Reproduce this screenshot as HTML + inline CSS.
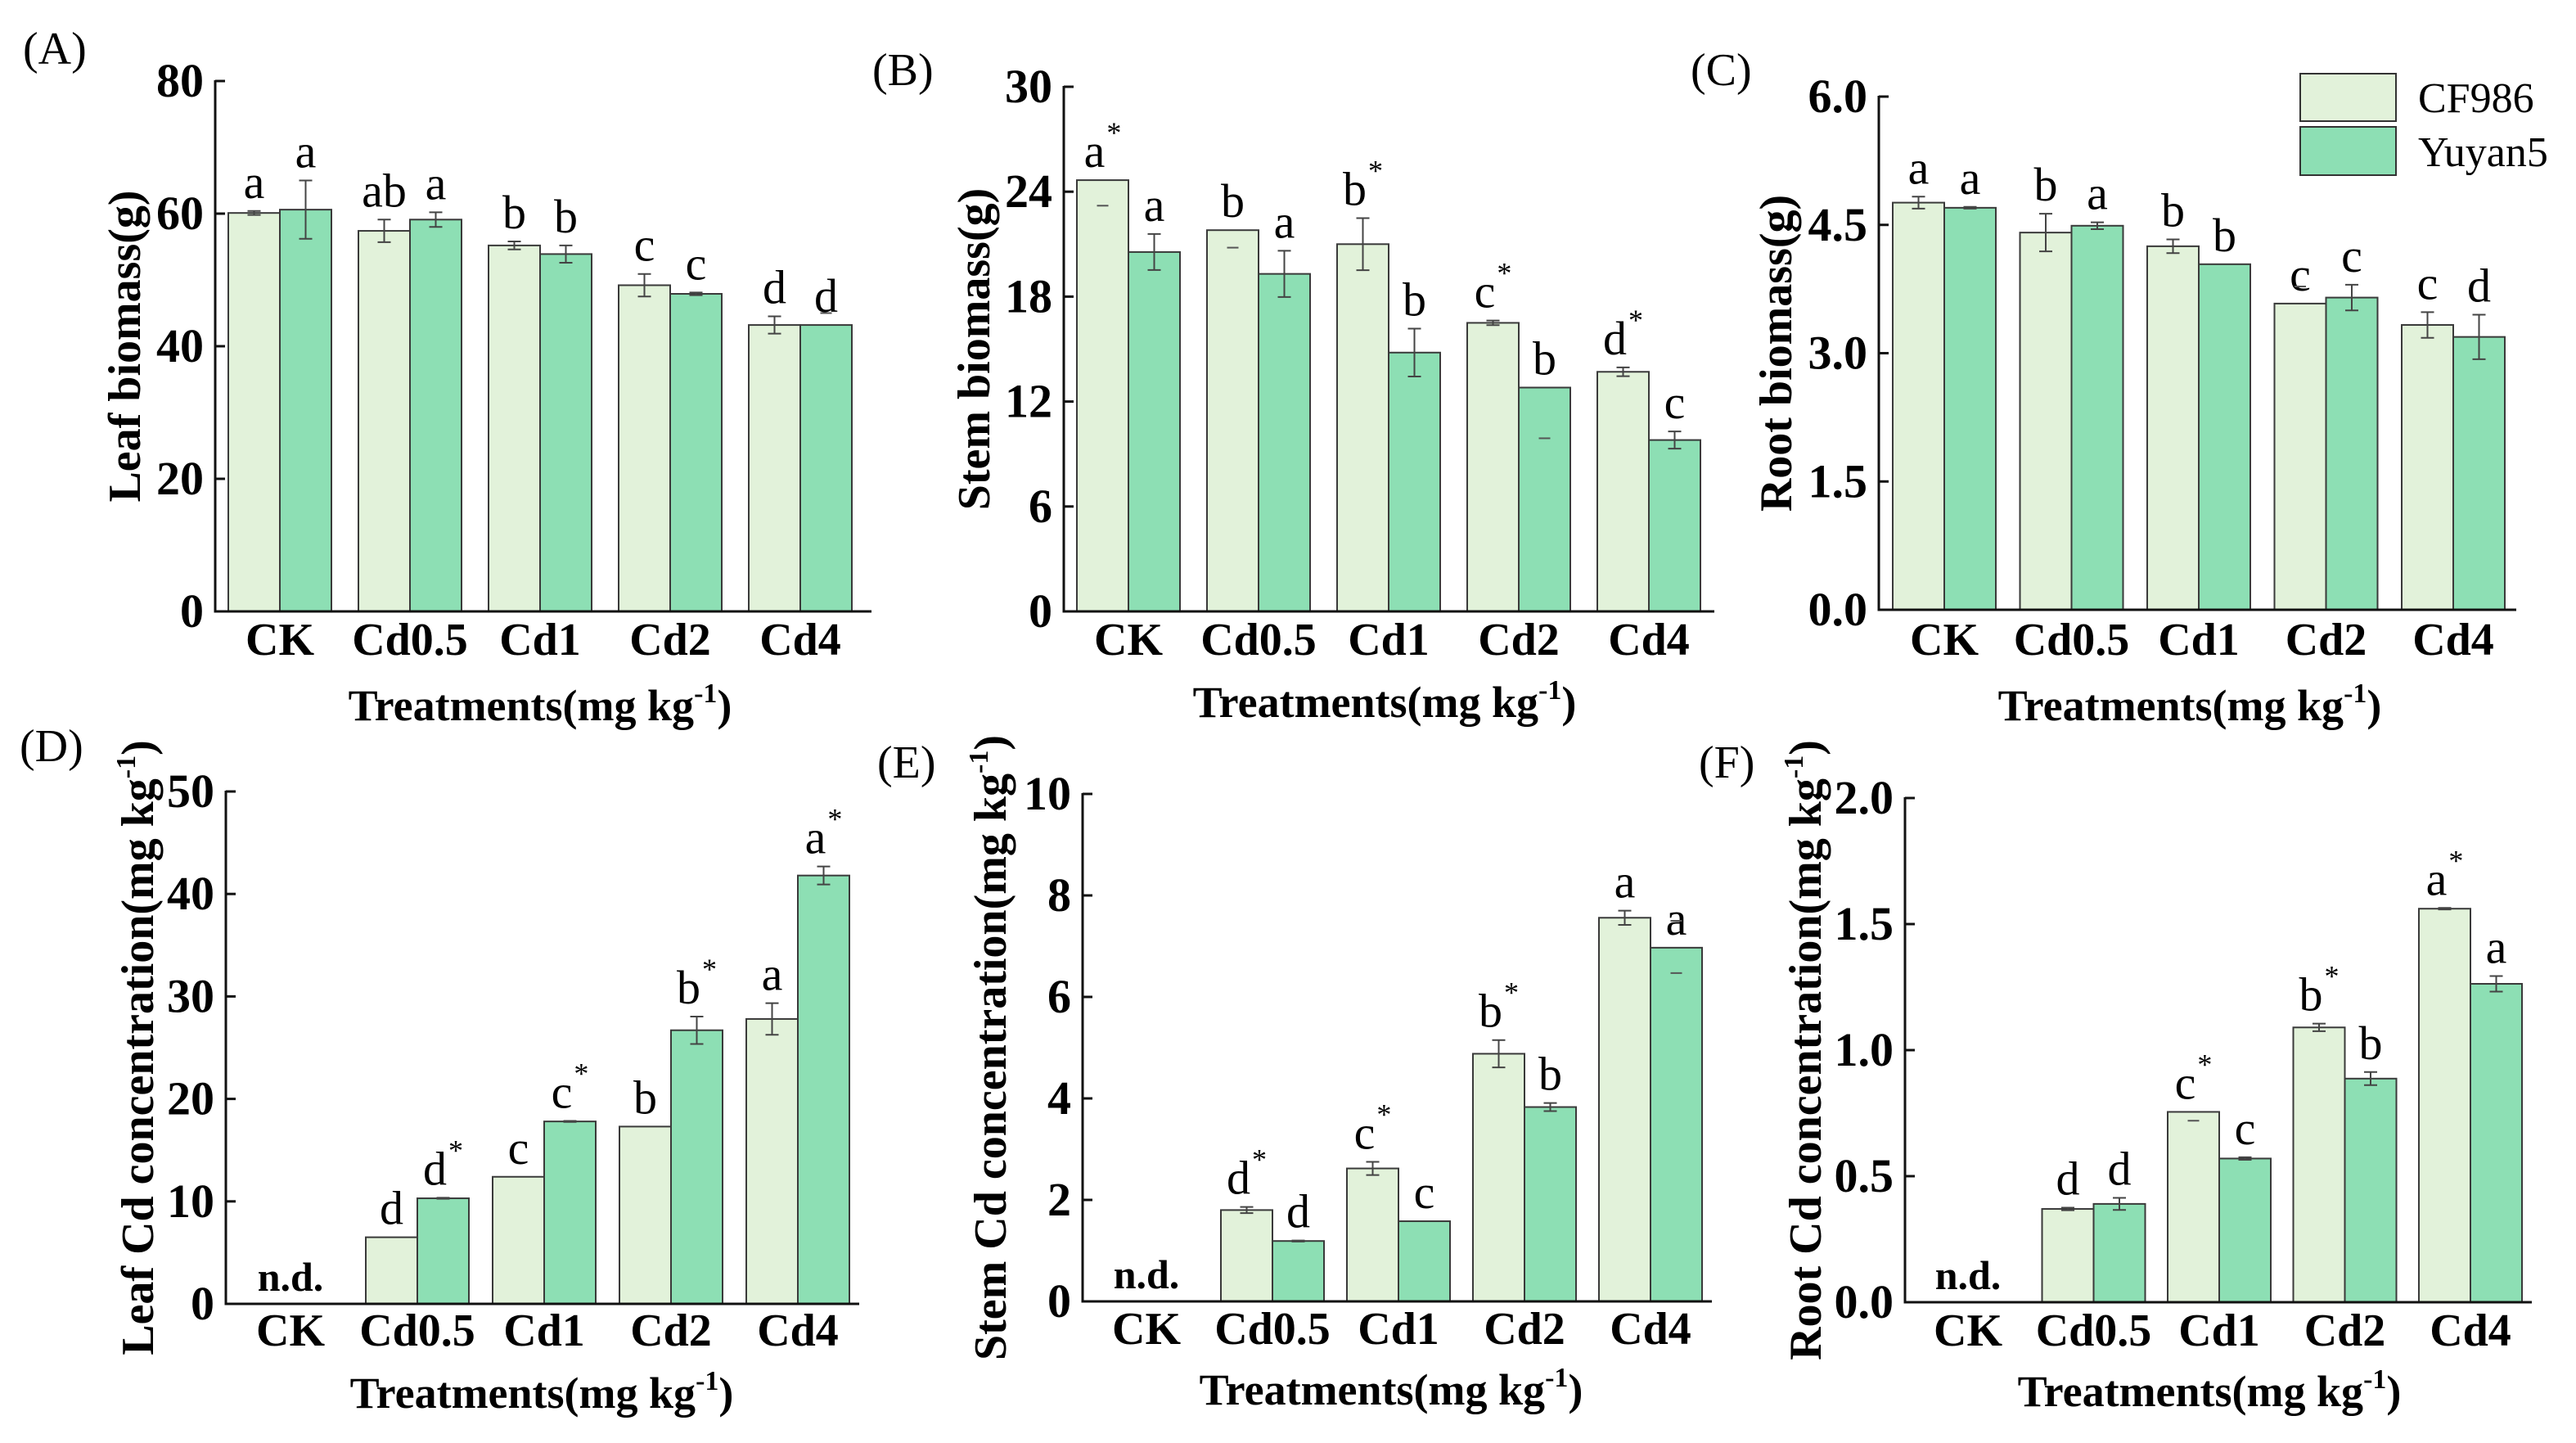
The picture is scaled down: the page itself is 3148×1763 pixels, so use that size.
<!DOCTYPE html>
<html><head><meta charset="utf-8">
<style>
html,body{margin:0;padding:0;background:#fff;}
svg, svg text{font-family:"Liberation Serif","DejaVu Serif",serif;}
</style></head>
<body>
<svg id="fig" width="3148" height="1758" viewBox="0 0 3148 1758" xmlns="http://www.w3.org/2000/svg" font-family="Liberation Serif, DejaVu Serif, serif">
  <rect width="3148" height="1758" fill="#fff"/>
  <g>
    <rect x="2811" y="90" width="117" height="58" fill="#e2f2da" stroke="#333" stroke-width="2"/>
    <text x="2955" y="137" font-size="52" font-family="Liberation Serif, serif">CF986</text>
    <rect x="2811" y="155" width="117" height="59" fill="#8ddfb4" stroke="#333" stroke-width="2"/>
    <text x="2955" y="203" font-size="52" font-family="Liberation Serif, serif">Yuyan5</text>
  </g>
</svg>
<script>
const categories = ["CK","Cd0.5","Cd1","Cd2","Cd4"];

// (A) Leaf biomass
const leafBioCF = [60.1,57.4,55.2,49.2,43.2];
const leafBioY  = [60.6,59.1,53.9,47.9,43.2];
const leafBioCFErr = [0.3,1.7,0.6,1.7,1.3];
const leafBioYErr  = [4.4,1.1,1.3,0.2,0];
const leafBioCFLab = ["a","ab","b","c","d"];
const leafBioYLab  = ["a","a","b","c","d"];
const leafBioCFStar = [0,0,0,0,0];
const leafBioYStar  = [0,0,0,0,0];
// (B) Stem biomass
const stemBioCF = [24.66,21.8,21.0,16.5,13.7];
const stemBioY  = [20.55,19.3,14.8,12.8,9.8];
const stemBioCFErr = [0,0,1.49,0.13,0.25];
const stemBioYErr  = [1.03,1.32,1.37,0,0.49];
const stemBioCFLab = ["a","b","b","c","d"];
const stemBioYLab  = ["a","a","b","b","c"];
const stemBioCFStar = [1,0,1,1,1];
const stemBioYStar  = [0,0,0,0,0];
// (C) Root biomass
const rootBioCF = [4.76,4.41,4.25,3.58,3.33];
const rootBioY  = [4.70,4.49,4.04,3.65,3.19];
const rootBioCFErr = [0.07,0.22,0.08,0,0.15];
const rootBioYErr  = [0.01,0.04,0,0.15,0.26];
const rootBioCFLab = ["a","b","b","c","c"];
const rootBioYLab  = ["a","a","b","c","d"];
const rootBioCFStar = [0,0,0,0,0];
const rootBioYStar  = [0,0,0,0,0];
// (D) Leaf Cd concentration
const leafCdCF = [0,6.5,12.4,17.3,27.8];
const leafCdY  = [0,10.3,17.8,26.7,41.8];
const leafCdCFErr = [0,0,0,0,1.54];
const leafCdYErr  = [0,0.05,0.05,1.34,0.88];
const leafCdCFLab = ["","d","c","b","a"];
const leafCdYLab  = ["","d","c","b","a"];
const leafCdCFStar = [0,0,0,0,0];
const leafCdYStar  = [0,1,1,1,1];
// (E) Stem Cd concentration
const stemCdCF = [0,1.80,2.62,4.88,7.56];
const stemCdY  = [0,1.19,1.58,3.83,6.97];
const stemCdCFErr = [0,0.06,0.13,0.27,0.14];
const stemCdYErr  = [0,0.01,0,0.08,0];
const stemCdCFLab = ["","d","c","b","a"];
const stemCdYLab  = ["","d","c","b","a"];
const stemCdCFStar = [0,1,1,1,0];
const stemCdYStar  = [0,0,0,0,0];
// (F) Root Cd concentration
const rootCdCF = [0,0.37,0.755,1.09,1.561];
const rootCdY  = [0,0.39,0.57,0.887,1.263];
const rootCdCFErr = [0,0.005,0,0.015,0.003];
const rootCdYErr  = [0,0.024,0.005,0.026,0.031];
const rootCdCFLab = ["","d","c","b","a"];
const rootCdYLab  = ["","d","c","b","a"];
const rootCdCFStar = [0,0,1,1,1];
const rootCdYStar  = [0,0,0,0,0];

// detached error caps (visible dashes) : [series, category, value]
const leafBioDash = [["Y",4,45.0]];
const stemBioDash = [["CF",0,23.2],["CF",1,20.8],["Y",3,9.9]];
const rootBioDash = [["CF",3,3.78]];
const stemCdDash  = [["Y",4,7.5],["Y",4,6.47]];
const rootCdDash  = [["CF",2,0.72]];

const yTicksA = [0,20,40,60,80];
const yTicksB = [0,6,12,18,24,30];
const yTicksC = [0,1.5,3.0,4.5,6.0];
const yTicksD = [0,10,20,30,40,50];
const yTicksE = [0,2,4,6,8,10];
const yTicksF = [0,0.5,1.0,1.5,2.0];

const NS="http://www.w3.org/2000/svg";
const FONT="Liberation Serif, DejaVu Serif, serif";
const svg=document.getElementById('fig');
function el(tag,attrs,parent){const e=document.createElementNS(NS,tag);for(const k in attrs)e.setAttribute(k,attrs[k]);if(tag==='text')e.setAttribute('font-family',FONT);(parent||svg).appendChild(e);return e;}

const panels=[
 {id:"a",tag:"(A)",tagX:28,tagY:78,ax:263,axEnd:1065,y0:747,yTop:99,max:80,ticks:yTicksA,dec:0,bar0:279,step:159,
  cf:leafBioCF,y:leafBioY,cfE:leafBioCFErr,yE:leafBioYErr,cfL:leafBioCFLab,yL:leafBioYLab,cfS:leafBioCFStar,yS:leafBioYStar,dash:leafBioDash,
  title:"Leaf biomass(g)",sup:false,titleX:152,titleLen:306,nd:false,catY:800,xtY:880,xtX:660,xtLen:483},
 {id:"b",tag:"(B)",tagX:1066,tagY:104,ax:1300,axEnd:2095,y0:747,yTop:106,max:30,ticks:yTicksB,dec:0,bar0:1316,step:159,
  cf:stemBioCF,y:stemBioY,cfE:stemBioCFErr,yE:stemBioYErr,cfL:stemBioCFLab,yL:stemBioYLab,cfS:stemBioCFStar,yS:stemBioYStar,dash:stemBioDash,
  title:"Stem biomass(g)",sup:false,titleX:1190,titleLen:316,nd:false,catY:800,xtY:876,xtX:1692,xtLen:483},
 {id:"c",tag:"(C)",tagX:2066,tagY:104,ax:2296,axEnd:3075,y0:745,yTop:118,max:6,ticks:yTicksC,dec:1,bar0:2313,step:155.5,
  cf:rootBioCF,y:rootBioY,cfE:rootBioCFErr,yE:rootBioYErr,cfL:rootBioCFLab,yL:rootBioYLab,cfS:rootBioCFStar,yS:rootBioYStar,dash:rootBioDash,
  title:"Root biomass(g)",sup:false,titleX:2170,titleLen:320,nd:false,catY:800,xtY:880,xtX:2676,xtLen:483},
 {id:"d",tag:"(D)",tagX:24,tagY:930,ax:276,axEnd:1050,y0:1593,yTop:967,max:50,ticks:yTicksD,dec:0,bar0:292,step:155,
  cf:leafCdCF,y:leafCdY,cfE:leafCdCFErr,yE:leafCdYErr,cfL:leafCdCFLab,yL:leafCdYLab,cfS:leafCdCFStar,yS:leafCdYStar,dash:[],
  title:"Leaf Cd concentration(mg kg",sup:true,titleX:168,titleLen:690,nd:true,catY:1644,xtY:1720,xtX:662,xtLen:483},
 {id:"e",tag:"(E)",tagX:1072,tagY:950,ax:1323,axEnd:2092,y0:1590,yTop:970,max:10,ticks:yTicksE,dec:0,bar0:1338,step:154,
  cf:stemCdCF,y:stemCdY,cfE:stemCdCFErr,yE:stemCdYErr,cfL:stemCdCFLab,yL:stemCdYLab,cfS:stemCdCFStar,yS:stemCdYStar,dash:stemCdDash,
  title:"Stem Cd concentration(mg kg",sup:true,titleX:1210,titleLen:700,nd:true,catY:1642,xtY:1716,xtX:1700,xtLen:483},
 {id:"f",tag:"(F)",tagX:2076,tagY:950,ax:2328,axEnd:3094,y0:1591,yTop:975,max:2,ticks:yTicksF,dec:1,bar0:2342,step:153.5,
  cf:rootCdCF,y:rootCdY,cfE:rootCdCFErr,yE:rootCdYErr,cfL:rootCdCFLab,yL:rootCdYLab,cfS:rootCdCFStar,yS:rootCdYStar,dash:rootCdDash,
  title:"Root Cd concentration(mg kg",sup:true,titleX:2206,titleLen:690,nd:true,catY:1644,xtY:1718,xtX:2700,xtLen:483}
];
const BW=63;
const FILL={CF:"#e2f2da",Y:"#8ddfb4"};

panels.forEach(p=>{
  const g=el('g',{});
  
  
  const yS=v=>p.y0-(v/p.max)*(p.y0-p.yTop);
  const xS=(i,s)=>p.bar0+i*p.step+(s==="Y"?BW:0);

  const tg=el('text',{x:p.tagX,y:p.tagY,'font-size':56},g); tg.textContent=p.tag;
  
  

  [["CF",p.cf,p.cfE,p.cfL,p.cfS],["Y",p.y,p.yE,p.yL,p.yS]].forEach(([s,vals,errs,labs,stars])=>{
    vals.forEach((v,i)=>{
      if(v<=0) return;
      const x=xS(i,s), top=yS(v);
      const r=el('rect',{x:x,y:top,width:BW,height:p.y0-top,fill:FILL[s],stroke:"#3a3a3a",'stroke-width':2},g);
      
      
      const cx=x+BW/2; const e=errs[i];
      let labBase=top;
      if(e>0){
        const t=yS(v+e), b=yS(v-e);
        const eg=el('path',{d:`M${cx},${t}V${b}M${cx-8},${t}H${cx+8}M${cx-8},${b}H${cx+8}`,stroke:"#444",'stroke-width':2,fill:"none"},g);
        
        
        labBase=t;
      }
      if(labs[i]){
        const lt=el('text',{x:cx,y:labBase-16,'font-size':58,'text-anchor':'middle'},g);
        lt.textContent=labs[i];
        
        
        if(stars[i]){
          const st=el('tspan',{dx:2,dy:-30,'font-size':36},lt); st.textContent="*";
        }
      }
    });
  });
  p.dash.forEach(([s,i,v])=>{
    const cx=xS(i,s)+BW/2;
    const d=el('line',{x1:cx-7,x2:cx+7,y1:yS(v),y2:yS(v),stroke:"#555",'stroke-width':2},g);
    
    
  });

  const ya=el('line',{x1:p.ax,x2:p.ax,y1:p.yTop-1,y2:p.y0+1.5,stroke:"#111",'stroke-width':3},g);
  
  
  const xa=el('line',{x1:p.ax-1.5,x2:p.axEnd,y1:p.y0,y2:p.y0,stroke:"#111",'stroke-width':3},g);
  
  
  p.ticks.forEach(t=>{
    const yy=yS(t);
    const tl=el('line',{x1:p.ax,x2:p.ax+12,y1:yy,y2:yy,stroke:"#111",'stroke-width':3},g);
    
    
    const tt=el('text',{x:p.ax-14,y:yy+19,'font-size':58,'font-weight':'bold','text-anchor':'end'},g);
    tt.textContent=t.toFixed(p.dec);
    
    
  });
  categories.forEach((c,i)=>{
    const ct=el('text',{x:p.bar0+i*p.step+BW,y:p.catY,'font-size':56,'font-weight':'bold','text-anchor':'middle'},g);
    ct.textContent=c;
    
    
  });
  if(p.nd){
    const nd=el('text',{x:p.bar0+BW,y:p.y0-16,'font-size':50,'font-weight':'bold','text-anchor':'middle'},g);
    nd.textContent="n.d.";
    
    
  }
  const xt=el('text',{x:p.xtX,y:p.xtY,'font-size':54,'font-weight':'bold','text-anchor':'middle'},g);
  xt.textContent="Treatments(mg kg";
  const xs=el('tspan',{dy:-22,'font-size':34},xt); xs.textContent="-1";
  const xe=el('tspan',{dy:22},xt); xe.textContent=")";
  
  
  const cy=(p.y0+p.yTop)/2;
  const yt=el('text',{x:0,y:0,'font-size':56,'font-weight':'bold','text-anchor':'middle',transform:`translate(${p.titleX+19},${cy}) rotate(-90)`},g);
  yt.textContent=p.title;
  if(p.sup){
    const s1=el('tspan',{dy:-22,'font-size':34},yt); s1.textContent="-1";
    const s2=el('tspan',{dy:22},yt); s2.textContent=")";
  }
  
  
});
</script>
</body></html>
